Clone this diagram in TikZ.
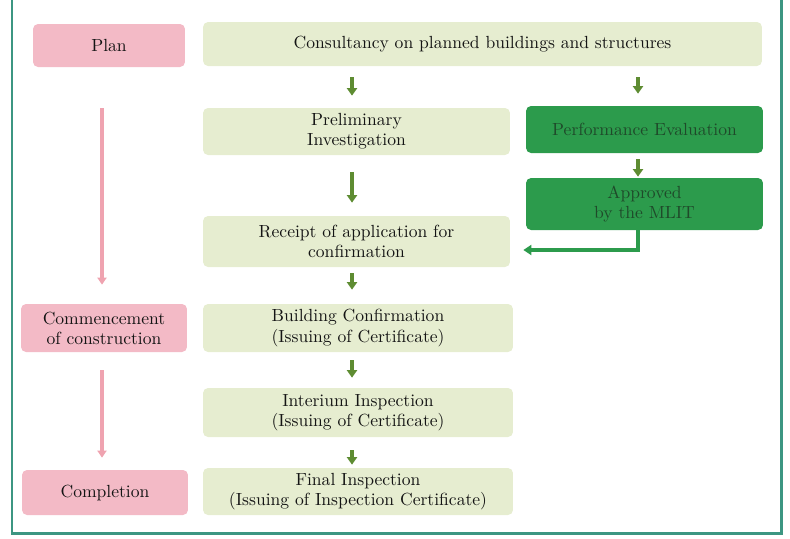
\documentclass[tikz,border=0pt]{standalone}
\usetikzlibrary{arrows.meta}

\definecolor{framegreen}{HTML}{3C9682}
\definecolor{stagepink}{HTML}{F3BAC6}
\definecolor{steplight}{HTML}{E6EDD0}
\definecolor{stepdark}{HTML}{2C9B4C}
\definecolor{stepdarktext}{HTML}{1F4A2A}
\definecolor{flowolive}{HTML}{5E8C32}
\definecolor{flowpink}{HTML}{EFA3B0}

\tikzset{
    box/.style={rounded corners=0.1cm, inner sep=0pt, align=center,
        font=\fontsize{10}{11.4}\selectfont, text=black!92},
    stagebox/.style={box, fill=stagepink},
    lightbox/.style={box, fill=steplight},
    darkbox/.style={box, fill=stepdark, text=stepdarktext},
    oarrow/.style={draw=flowolive, line width=0.08cm,
        -{Triangle[width=0.2cm,length=0.15cm]}, shorten <=0.22cm, shorten >=0.24cm},
    parrow/.style={draw=flowpink, line width=0.08cm,
        -{Triangle[width=0.18cm,length=0.14cm]}},
    darrow/.style={draw=stepdark, line width=0.07cm,
        -{Triangle[width=0.2cm,length=0.16cm]}}
}

\begin{document}
\begin{tikzpicture}[x=0.02cm, y=-0.02cm]
    \useasboundingbox (0,0) rectangle (790,538);

    % --- frame ---
    \draw[framegreen, line width=0.06cm] (12,0) -- (12,533) -- (781,533) -- (781,0);

    % --- stages (left column) ---
    \node[stagebox, minimum width=3.04cm, minimum height=0.86cm] (plan) at (109,45.5) {Plan};
    \node[stagebox, minimum width=3.32cm, minimum height=0.96cm] (commence) at (104,328) {Commencement\\of construction};
    \node[stagebox, minimum width=3.32cm, minimum height=0.90cm] (completion) at (105,492.5) {Completion};

    % --- procedure (middle column) ---
    \node[lightbox, minimum width=11.18cm, minimum height=0.88cm] (consult) at (482.5,44) {Consultancy on planned buildings and structures};
    \node[lightbox, minimum width=6.14cm, minimum height=0.94cm] (prelim) at (356.5,131.5) {Preliminary\\Investigation};
    \node[lightbox, minimum width=6.14cm, minimum height=1.02cm] (receipt) at (356.5,241.5) {Receipt of application for\\confirmation};
    \node[lightbox, minimum width=6.2cm, minimum height=0.96cm] (confirm) at (358,328) {Building Confirmation\\(Issuing of Certificate)};
    \node[lightbox, minimum width=6.2cm, minimum height=0.98cm] (interim) at (358,412.5) {Interium Inspection\\(Issuing of Certificate)};
    \node[lightbox, minimum width=6.2cm, minimum height=0.94cm] (final) at (358,491.5) {Final Inspection\\(Issuing of Inspection Certificate)};

    % --- evaluation (right column) ---
    \node[darkbox, minimum width=4.74cm, minimum height=0.94cm] (perf) at (644.5,129.5) {Performance Evaluation};
    \node[darkbox, minimum width=4.74cm, minimum height=1.04cm] (approved) at (644.5,204) {Approved\\by the MLIT};

    % arrow columns
    \coordinate (lx) at (102,0); \coordinate (mx) at (352,0); \coordinate (rx) at (638,0);

    % Stage arrows
    \draw[parrow, shorten <=0.82cm, shorten >=0.38cm] (plan.south -| lx) -- (commence.north -| lx);
    \draw[parrow, shorten <=0.36cm, shorten >=0.24cm] (commence.south -| lx) -- (completion.north -| lx);

    % Procedure arrows
    \draw[oarrow] (consult.south -| mx) -- (prelim.north -| mx);
    \draw[oarrow, shorten <=0.34cm, shorten >=0.26cm] (prelim.south -| mx) -- (receipt.north -| mx);
    \draw[oarrow, shorten <=0.12cm, shorten >=0.28cm] (receipt.south -| mx) -- (confirm.north -| mx);
    \draw[oarrow, shorten <=0.16cm, shorten >=0.2cm] (confirm.south -| mx) -- (interim.north -| mx);
    \draw[oarrow, shorten <=0.26cm, shorten >=0.06cm] (interim.south -| mx) -- (final.north -| mx);

    % Evaluation route
    \draw[oarrow] (consult.south -| rx) -- (perf.north -| rx);
    \draw[oarrow, shorten <=0.12cm, shorten >=0.02cm] (perf.south -| rx) -- (approved.north -| rx);
    \coordinate (back) at ([yshift=-0.17cm]receipt.east);
    \draw[darrow, shorten >=0.26cm] (approved.south -| rx) |- (back);
\end{tikzpicture}
\end{document}
